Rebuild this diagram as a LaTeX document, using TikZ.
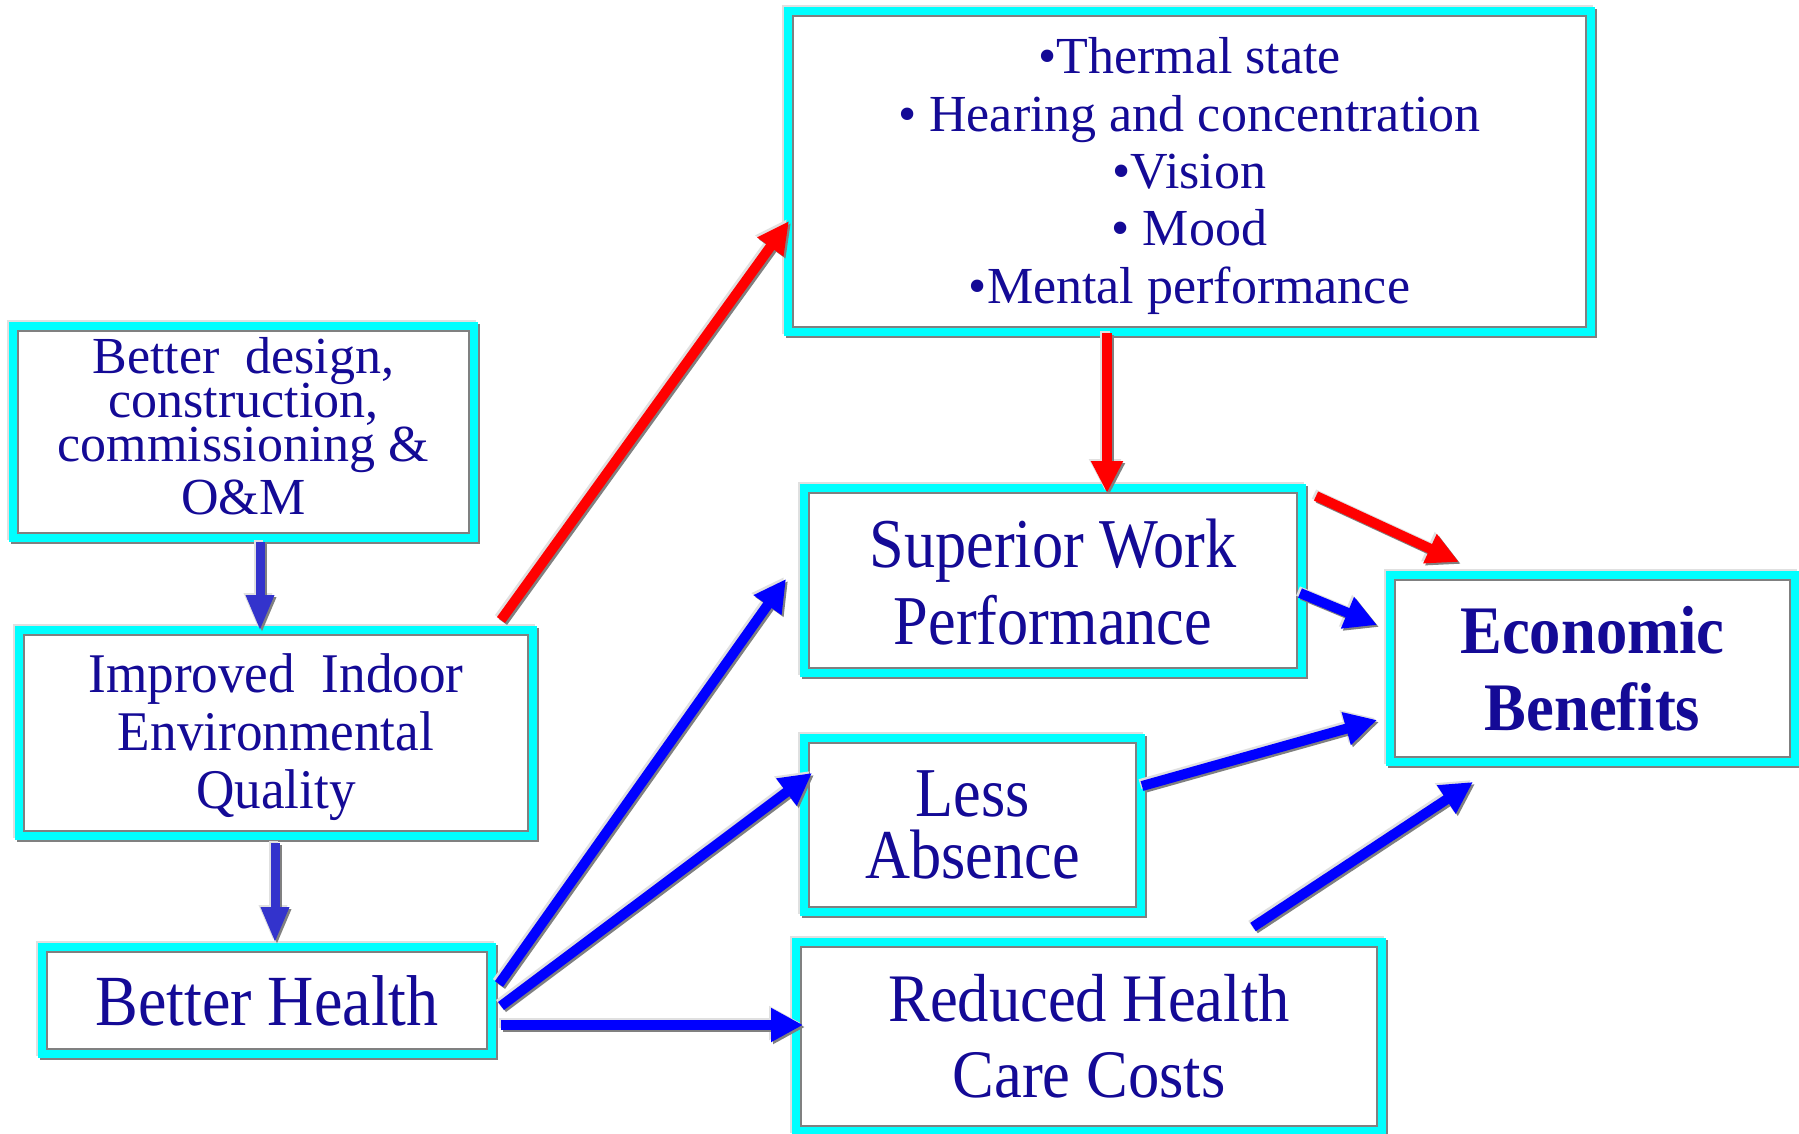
\documentclass[tikz,border=0pt]{standalone}
\usepackage{fontspec}
\newfontfamily\tfA{Liberation Serif}
\newfontfamily\tfB[FakeStretch=0.95]{Liberation Serif}
\newfontfamily\tfC[FakeStretch=0.92]{Liberation Serif}
\newfontfamily\tfD[FakeStretch=0.89]{Liberation Serif}
\usetikzlibrary{arrows.meta,calc,backgrounds}
\definecolor{txt}{RGB}{20,10,150}
\definecolor{cyanB}{RGB}{0,255,255}
\definecolor{redA}{RGB}{255,0,0}
\definecolor{blueA}{RGB}{0,0,255}
\definecolor{purp}{RGB}{51,51,204}
\definecolor{shgray}{RGB}{128,128,128}
\definecolor{hlgray}{RGB}{224,224,224}
\tikzset{
  ibox/.style={rectangle, inner sep=0pt, outer sep=0pt, fill=white, draw=shgray,
    line width=2pt, preaction={draw=cyanB, line width=18pt}, text=txt, align=center},
  bluearr/.style={draw=blueA, line width=10pt, -{Triangle[length=32pt,width=32pt]}},
  redarr/.style={draw=redA, line width=10pt, -{Triangle[length=32pt,width=30pt]}},
  purparr/.style={draw=purp, line width=9pt, -{Triangle[length=36pt,width=26pt]}},
}
\newcommand\allarrows{%
  \draw[purparr] ($(b1.south)+(16.5,9)$) -- ($(b2.north)+(-16,-4)$);
  \draw[purparr] ($(b2.south)+(-1,12)$) -- ($(b3.north)+(8,-9)$);
  \draw[redarr] ($(b2.north east)+(-27,-15)$) -- ($(b4.west)+(-4,49.5)$);
  \draw[redarr] ($(b4.south)+(-82.5,6)$) -- ($(b5.north)+(54,0)$);
  \draw[redarr] ($(b5.north east)+(19,3)$) -- ($(b8.north)+(-133.5,-18)$);
  \draw[bluearr] ($(b5.east)+(3,12.5)$) -- ($(b8.west)+(-18,-43.5)$);
  \draw[bluearr] ($(b6.east)+(6,-39)$) -- ($(b8.west)+(-18,51.5)$);
  \draw[bluearr] ($(b7.north)+(164,-20)$) -- ($(b8.south)+(-119.5,25)$);
  \draw[bluearr] ($(b3.east)+(12,-16.5)$) -- ($(b5.west)+(-23,-1.5)$);
  \draw[bluearr] ($(b3.east)+(14,5.5)$) -- ($(b6.west)+(3,-52)$);
  \draw[bluearr] ($(b3.east)+(14,24.5)$) -- ($(b7.west)+(2,-11.5)$);
}
\begin{document}
\begin{tikzpicture}[x=1pt,y=-1pt]
\useasboundingbox (0,0) rectangle (1799,1133);
% boxes
\node[ibox, minimum width=451pt, minimum height=202pt,
  font={\tfA\fontsize{52}{44}\selectfont\lineskiplimit=-100pt}] (b1) at (243.5,432)
  {Better\ \ design,\\construction,\\commissioning \&\\[9pt]O\&M\rule[-13pt]{0pt}{13pt}};
\node[ibox, minimum width=504pt, minimum height=196pt,
  font={\tfB\fontsize{56}{58}\selectfont\lineskiplimit=-100pt}] (b2) at (276,733)
  {\rule{0pt}{48pt}Improved\ \ Indoor\\Environmental\\Quality};
\node[ibox, minimum width=440pt, minimum height=97pt,
  font={\tfD\fontsize{72}{76}\selectfont}] (b3) at (267,1000.5)
  {Better Health};
\node[ibox, minimum width=793pt, minimum height=311pt,
  font={\tfA\fontsize{52}{57.4}\selectfont\lineskiplimit=-100pt}] (b4) at (1189.5,171.5)
  {\rule{0pt}{45pt}•Thermal state\\• Hearing and concentration\\•Vision\\• Mood\\•Mental performance};
\node[ibox, minimum width=488pt, minimum height=175pt,
  font={\tfD\fontsize{70}{77}\selectfont\lineskiplimit=-100pt}] (b5) at (1053,580.5)
  {\rule{0pt}{52pt}Superior Work\\Performance};
\node[ibox, minimum width=327pt, minimum height=164pt,
  font={\tfD\fontsize{70}{62}\selectfont\lineskiplimit=-100pt}] (b6) at (972.5,825)
  {Less\\Absence};
\node[ibox, minimum width=576pt, minimum height=179pt,
  font={\tfC\fontsize{68}{76}\selectfont\lineskiplimit=-100pt}] (b7) at (1089,1036.5)
  {Reduced Health\\Care Costs};
\node[ibox, minimum width=395pt, minimum height=177pt,
  font={\tfC\bfseries\fontsize{68}{77}\selectfont\lineskiplimit=-100pt}] (b8) at (1592.5,668.5)
  {Economic\\Benefits};
% background and box shadows
\begin{scope}[on background layer]
  \fill[white] (0,0) rectangle (1799,1133);
  \foreach \n in {b1,b2,b3,b4,b5,b6,b7,b8}{
    \draw[hlgray, line width=18pt] ([xshift=-2pt,yshift=2pt]\n.north west) rectangle ([xshift=-2pt,yshift=2pt]\n.south east);
    \draw[shgray, line width=18pt] ([xshift=2pt,yshift=-2pt]\n.north west) rectangle ([xshift=2pt,yshift=-2pt]\n.south east);
  }
\end{scope}
% arrow highlights and shadows
\begin{scope}[transform canvas={xshift=-2pt,yshift=2pt},
  bluearr/.append style={draw=hlgray}, redarr/.append style={draw=hlgray}, purparr/.append style={draw=hlgray}]
  \allarrows
\end{scope}
\begin{scope}[transform canvas={xshift=2pt,yshift=-2pt},
  bluearr/.append style={draw=shgray}, redarr/.append style={draw=shgray}, purparr/.append style={draw=shgray}]
  \allarrows
\end{scope}
\allarrows
\end{tikzpicture}
\end{document}
